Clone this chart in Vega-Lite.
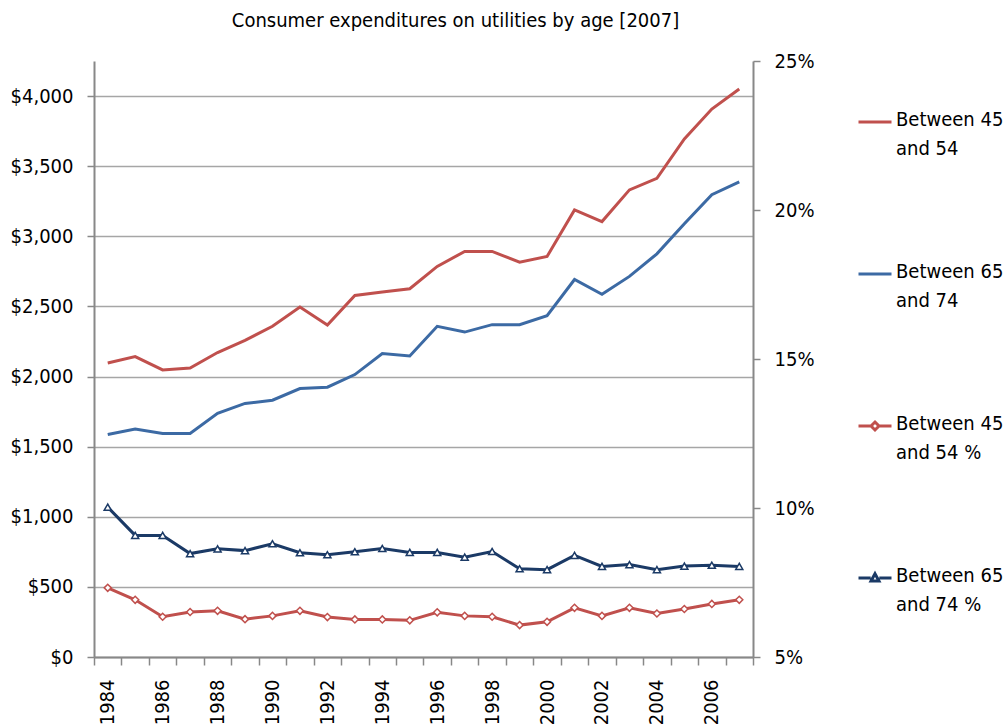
{
  "$schema": "https://vega.github.io/schema/vega-lite/v6.json",
  "width": 659,
  "height": 596,
  "autosize": {"type": "none"},
  "padding": {"left": 94, "top": 61, "right": 252, "bottom": 71},
  "background": "white",
  "title": {
    "text": "Consumer expenditures on utilities by age [2007]",
    "font": "DejaVu Sans Condensed, Liberation Sans, sans-serif",
    "fontSize": 20,
    "fontWeight": "normal",
    "color": "#000000",
    "anchor": "middle",
    "dx": 32,
    "offset": 20
  },
  "data": {"values": [
    {"year": 1984, "series": "Between 45 and 54", "value": 2097},
    {"year": 1985, "series": "Between 45 and 54", "value": 2142},
    {"year": 1986, "series": "Between 45 and 54", "value": 2047},
    {"year": 1987, "series": "Between 45 and 54", "value": 2061},
    {"year": 1988, "series": "Between 45 and 54", "value": 2171},
    {"year": 1989, "series": "Between 45 and 54", "value": 2258},
    {"year": 1990, "series": "Between 45 and 54", "value": 2358},
    {"year": 1991, "series": "Between 45 and 54", "value": 2495},
    {"year": 1992, "series": "Between 45 and 54", "value": 2367},
    {"year": 1993, "series": "Between 45 and 54", "value": 2578},
    {"year": 1994, "series": "Between 45 and 54", "value": 2602},
    {"year": 1995, "series": "Between 45 and 54", "value": 2626},
    {"year": 1996, "series": "Between 45 and 54", "value": 2785},
    {"year": 1997, "series": "Between 45 and 54", "value": 2892},
    {"year": 1998, "series": "Between 45 and 54", "value": 2892},
    {"year": 1999, "series": "Between 45 and 54", "value": 2815},
    {"year": 2000, "series": "Between 45 and 54", "value": 2856},
    {"year": 2001, "series": "Between 45 and 54", "value": 3188},
    {"year": 2002, "series": "Between 45 and 54", "value": 3105},
    {"year": 2003, "series": "Between 45 and 54", "value": 3331},
    {"year": 2004, "series": "Between 45 and 54", "value": 3413},
    {"year": 2005, "series": "Between 45 and 54", "value": 3694},
    {"year": 2006, "series": "Between 45 and 54", "value": 3907},
    {"year": 2007, "series": "Between 45 and 54", "value": 4050},
    {"year": 1984, "series": "Between 65 and 74", "value": 1587},
    {"year": 1985, "series": "Between 65 and 74", "value": 1625},
    {"year": 1986, "series": "Between 65 and 74", "value": 1594},
    {"year": 1987, "series": "Between 65 and 74", "value": 1594},
    {"year": 1988, "series": "Between 65 and 74", "value": 1737},
    {"year": 1989, "series": "Between 65 and 74", "value": 1808},
    {"year": 1990, "series": "Between 65 and 74", "value": 1831},
    {"year": 1991, "series": "Between 65 and 74", "value": 1914},
    {"year": 1992, "series": "Between 65 and 74", "value": 1924},
    {"year": 1993, "series": "Between 65 and 74", "value": 2014},
    {"year": 1994, "series": "Between 65 and 74", "value": 2164},
    {"year": 1995, "series": "Between 65 and 74", "value": 2147},
    {"year": 1996, "series": "Between 65 and 74", "value": 2358},
    {"year": 1997, "series": "Between 65 and 74", "value": 2317},
    {"year": 1998, "series": "Between 65 and 74", "value": 2370},
    {"year": 1999, "series": "Between 65 and 74", "value": 2370},
    {"year": 2000, "series": "Between 65 and 74", "value": 2434},
    {"year": 2001, "series": "Between 65 and 74", "value": 2692},
    {"year": 2002, "series": "Between 65 and 74", "value": 2586},
    {"year": 2003, "series": "Between 65 and 74", "value": 2714},
    {"year": 2004, "series": "Between 65 and 74", "value": 2875},
    {"year": 2005, "series": "Between 65 and 74", "value": 3089},
    {"year": 2006, "series": "Between 65 and 74", "value": 3297},
    {"year": 2007, "series": "Between 65 and 74", "value": 3388},
    {"year": 1984, "series": "Between 45 and 54 %", "value": 7.32},
    {"year": 1985, "series": "Between 45 and 54 %", "value": 6.92},
    {"year": 1986, "series": "Between 45 and 54 %", "value": 6.35},
    {"year": 1987, "series": "Between 45 and 54 %", "value": 6.51},
    {"year": 1988, "series": "Between 45 and 54 %", "value": 6.55},
    {"year": 1989, "series": "Between 45 and 54 %", "value": 6.27},
    {"year": 1990, "series": "Between 45 and 54 %", "value": 6.38},
    {"year": 1991, "series": "Between 45 and 54 %", "value": 6.55},
    {"year": 1992, "series": "Between 45 and 54 %", "value": 6.34},
    {"year": 1993, "series": "Between 45 and 54 %", "value": 6.26},
    {"year": 1994, "series": "Between 45 and 54 %", "value": 6.26},
    {"year": 1995, "series": "Between 45 and 54 %", "value": 6.23},
    {"year": 1996, "series": "Between 45 and 54 %", "value": 6.50},
    {"year": 1997, "series": "Between 45 and 54 %", "value": 6.38},
    {"year": 1998, "series": "Between 45 and 54 %", "value": 6.35},
    {"year": 1999, "series": "Between 45 and 54 %", "value": 6.07},
    {"year": 2000, "series": "Between 45 and 54 %", "value": 6.18},
    {"year": 2001, "series": "Between 45 and 54 %", "value": 6.65},
    {"year": 2002, "series": "Between 45 and 54 %", "value": 6.38},
    {"year": 2003, "series": "Between 45 and 54 %", "value": 6.65},
    {"year": 2004, "series": "Between 45 and 54 %", "value": 6.46},
    {"year": 2005, "series": "Between 45 and 54 %", "value": 6.61},
    {"year": 2006, "series": "Between 45 and 54 %", "value": 6.78},
    {"year": 2007, "series": "Between 45 and 54 %", "value": 6.92},
    {"year": 1984, "series": "Between 65 and 74 %", "value": 10.03},
    {"year": 1985, "series": "Between 65 and 74 %", "value": 9.08},
    {"year": 1986, "series": "Between 65 and 74 %", "value": 9.08},
    {"year": 1987, "series": "Between 65 and 74 %", "value": 8.47},
    {"year": 1988, "series": "Between 65 and 74 %", "value": 8.63},
    {"year": 1989, "series": "Between 65 and 74 %", "value": 8.57},
    {"year": 1990, "series": "Between 65 and 74 %", "value": 8.80},
    {"year": 1991, "series": "Between 65 and 74 %", "value": 8.50},
    {"year": 1992, "series": "Between 65 and 74 %", "value": 8.43},
    {"year": 1993, "series": "Between 65 and 74 %", "value": 8.53},
    {"year": 1994, "series": "Between 65 and 74 %", "value": 8.64},
    {"year": 1995, "series": "Between 65 and 74 %", "value": 8.51},
    {"year": 1996, "series": "Between 65 and 74 %", "value": 8.51},
    {"year": 1997, "series": "Between 65 and 74 %", "value": 8.35},
    {"year": 1998, "series": "Between 65 and 74 %", "value": 8.54},
    {"year": 1999, "series": "Between 65 and 74 %", "value": 7.96},
    {"year": 2000, "series": "Between 65 and 74 %", "value": 7.93},
    {"year": 2001, "series": "Between 65 and 74 %", "value": 8.41},
    {"year": 2002, "series": "Between 65 and 74 %", "value": 8.04},
    {"year": 2003, "series": "Between 65 and 74 %", "value": 8.10},
    {"year": 2004, "series": "Between 65 and 74 %", "value": 7.93},
    {"year": 2005, "series": "Between 65 and 74 %", "value": 8.05},
    {"year": 2006, "series": "Between 65 and 74 %", "value": 8.08},
    {"year": 2007, "series": "Between 65 and 74 %", "value": 8.04}
  ]},
  "encoding": {
    "x": {
      "field": "year",
      "type": "ordinal",
      "title": null,
      "scale": {"type": "band", "paddingInner": 0, "paddingOuter": 0},
      "axis": {
        "tickBand": "extent",
        "labelAngle": -90,
        "labelExpr": "datum.value % 2 == 0 ? datum.label : ''",
        "tickSize": 8,
        "labelPadding": 14
      }
    }
  },
  "layer": [
    {
      "transform": [{"filter": "indexof(datum.series, '%') < 0"}],
      "mark": {"type": "line", "strokeWidth": 3},
      "encoding": {
        "y": {
          "field": "value",
          "type": "quantitative",
          "title": null,
          "scale": {"domain": [0, 4250], "nice": false, "zero": true},
          "axis": {
            "orient": "left",
            "values": [0, 500, 1000, 1500, 2000, 2500, 3000, 3500, 4000],
            "format": "$,.0f",
            "grid": true,
            "tickSize": 7,
            "labelPadding": 14
          }
        },
        "color": {
          "field": "series",
          "type": "nominal",
          "scale": {
            "domain": ["Between 45 and 54", "Between 65 and 74", "Between 45 and 54 %", "Between 65 and 74 %"],
            "range": ["#C0504D", "#3C6AA4", "#C0504D", "#1B3A66"]
          },
          "legend": {
            "title": null,
            "orient": "none",
            "legendX": 763,
            "legendY": 43,
            "direction": "vertical",
            "symbolSize": 1089,
            "symbolStrokeWidth": 3,
            "labelOffset": 3,
            "rowPadding": 97,
            "labelExpr": "[slice(datum.label, 0, 10), slice(datum.label, 11)]",
            "labelBaseline": "top",
            "encode": {
              "symbols": {
                "update": {
                  "shape": {"signal": "datum.value == 'Between 45 and 54 %' ? 'M-1,0H-0.24M0.24,0H1M0,-0.24L0.24,0L0,0.24L-0.24,0Z' : (datum.value == 'Between 65 and 74 %' ? 'M-1,0H-0.26M0.26,0H1M0,-0.26L0.24,0.18L-0.24,0.18Z' : 'M-1,0H1')"},
                  "fill": {"value": "white"}
                }
              },
              "labels": {
                "update": {"dy": {"value": -12}, "lineHeight": {"value": 29}}
              }
            }
          }
        }
      }
    },
    {
      "transform": [{"filter": "indexof(datum.series, '%') >= 0"}],
      "layer": [
        {
          "mark": {"type": "line", "strokeWidth": 3},
          "encoding": {
            "y": {
              "field": "value",
              "type": "quantitative",
              "title": null,
              "scale": {"domain": [5, 25], "nice": false, "zero": false},
              "axis": {
                "orient": "right",
                "values": [5, 10, 15, 20, 25],
                "labelExpr": "datum.value + '%'",
                "grid": false,
                "tickSize": 7,
                "labelPadding": 14
              }
            },
            "color": {"field": "series", "type": "nominal"}
          }
        },
        {
          "mark": {"type": "point", "filled": false, "fill": "white", "fillOpacity": 1, "strokeWidth": 1.5, "size": 50, "opacity": 1},
          "encoding": {
            "y": {"field": "value", "type": "quantitative"},
            "shape": {
              "field": "series",
              "type": "nominal",
              "scale": {"domain": ["Between 45 and 54 %", "Between 65 and 74 %"], "range": ["diamond", "triangle-up"]},
              "legend": null
            },
            "stroke": {
              "field": "series",
              "type": "nominal",
              "scale": {"domain": ["Between 45 and 54 %", "Between 65 and 74 %"], "range": ["#C0504D", "#1B3A66"]},
              "legend": null
            }
          }
        }
      ]
    }
  ],
  "resolve": {"scale": {"y": "independent"}},
  "config": {
    "view": {"stroke": null},
    "font": "DejaVu Sans Condensed, Liberation Sans, sans-serif",
    "axis": {
      "labelFont": "DejaVu Sans Condensed, Liberation Sans, sans-serif",
      "labelFontSize": 20,
      "labelColor": "#000000",
      "domainColor": "#888888",
      "domainWidth": 2,
      "tickColor": "#888888",
      "tickWidth": 1.5,
      "gridColor": "#A6A6A6",
      "gridWidth": 1.5
    },
    "legend": {
      "labelFont": "DejaVu Sans Condensed, Liberation Sans, sans-serif",
      "labelFontSize": 20,
      "labelColor": "#000000",
      "labelLimit": 300
    }
  }
}
